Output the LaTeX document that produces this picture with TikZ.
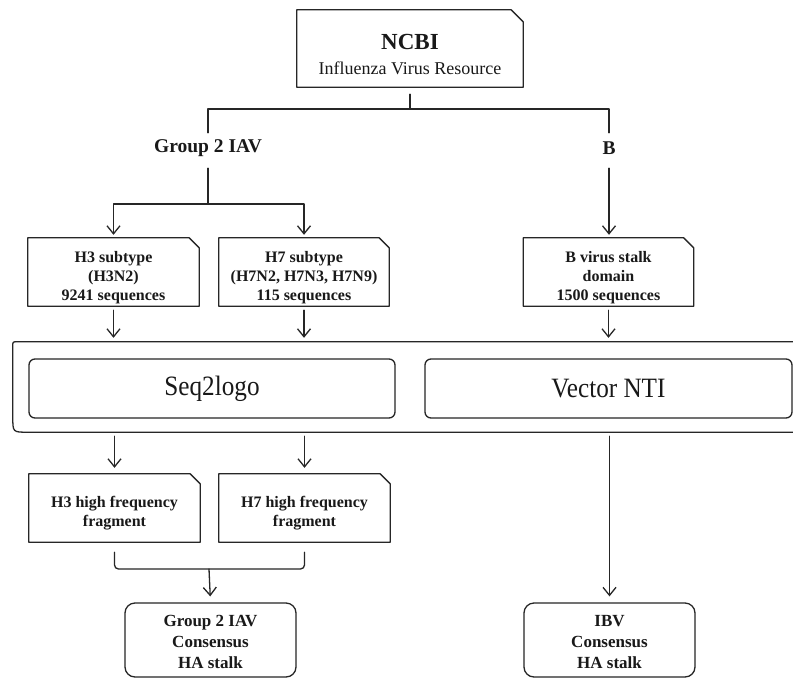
\documentclass[tikz,border=0pt]{standalone}
\usepackage{fontspec}
\setmainfont{Liberation Serif}
\usetikzlibrary{arrows.meta}
\newcommand\tstrut[1]{\rule{0pt}{#1}}
\tikzset{
  ln/.style={line width=1.3pt, draw=black!85, line cap=round, line join=round},
  arr/.style={ln, -{Straight Barb[length=8pt,width=13pt,line width=1.3pt]}},
  boxarea/.style={draw=none, inner sep=0pt, align=center, text=black!90},
  notebox/.style={boxarea, font=\fontsize{16}{19}\selectfont\bfseries},
  resbox/.style={boxarea, draw, ln, rounded corners=10pt, font=\fontsize{17}{21}\selectfont\bfseries},
  toolbox/.style={boxarea, draw, ln, rounded corners=6pt, font=\fontsize{28}{30}\selectfont},
  lbl/.style={inner sep=0pt, minimum height=30pt, font=\fontsize{19.5}{22}\selectfont\bfseries, text=black!90}
}
\begin{document}
\begin{tikzpicture}[x=1pt,y=-1pt]
\useasboundingbox[fill=white] (0,0) rectangle (793,678);
% nodes
\node[boxarea, minimum width=226pt, minimum height=77pt, font=\fontsize{18}{25}\selectfont] (ncbi) at (410,48.5)
  {\tstrut{28pt}{\fontsize{23}{25}\selectfont\bfseries NCBI}\\Influenza Virus Resource};
\node[lbl] (g2) at (208,148) {Group 2 IAV};
\node[lbl] (b) at (609,148) {B};
\node[notebox, minimum width=171pt, minimum height=68pt] (h3) at (113.5,272) {\tstrut{22pt}H3 subtype\\(H3N2)\\9241 sequences};
\node[notebox, minimum width=170pt, minimum height=68pt] (h7) at (304,272) {\tstrut{22pt}H7 subtype\\(H7N2, H7N3, H7N9)\\115 sequences};
\node[notebox, minimum width=170pt, minimum height=68pt] (bv) at (608.5,272) {\tstrut{22pt}B virus stalk\\domain\\1500 sequences};
\node[boxarea, minimum width=787pt, minimum height=90pt] (outer) at (406.5,387) {};
\node[toolbox, minimum width=366pt, minimum height=59pt] (seq) at (212,388.5) {\scalebox{0.9}[1]{Seq2logo}};
\node[toolbox, minimum width=367pt, minimum height=59pt] (vnti) at (608.5,388.5) {\scalebox{0.9}[1]{Vector NTI}};
\node[notebox, minimum width=171pt, minimum height=68pt] (h3f) at (114.5,508) {\tstrut{22pt}H3 high frequency\\fragment};
\node[notebox, minimum width=171pt, minimum height=68pt] (h7f) at (304.5,508) {\tstrut{22pt}H7 high frequency\\fragment};
\node[resbox, minimum width=171pt, minimum height=74pt] (g2c) at (210.5,640) {\tstrut{15.5pt}Group 2 IAV\\Consensus\\HA stalk};
\node[resbox, minimum width=171pt, minimum height=74pt] (ibv) at (609.5,640) {\tstrut{15.5pt}IBV\\Consensus\\HA stalk};
% chamfered outlines
\draw[ln] (ncbi.south west) -- (ncbi.north west) -- ([xshift=-12pt]ncbi.north east) -- ([yshift=-12pt]ncbi.north east) -- (ncbi.south east) -- cycle;
\foreach \n in {h3,h7,bv,h3f,h7f}{
  \draw[ln] (\n.south west) -- (\n.north west) -- ([xshift=-10pt]\n.north east) -- ([yshift=-10pt]\n.north east) -- (\n.south east) -- cycle;
}
% outer frame
\draw[ln] (outer.north east) -- ([xshift=4pt]outer.north west) .. controls (outer.north west) .. ([yshift=-4pt]outer.north west)
  -- ([yshift=15pt]outer.south west) .. controls (outer.south west) .. ([xshift=15pt]outer.south west) -- (outer.south east);
% connectors
\coordinate (j0) at (410,109);
\coordinate (j1) at (208,204);
\coordinate (j2) at (209,569);
\draw[ln, shorten <=7pt] (ncbi.south) -- (j0);
\draw[ln] (g2.north) -- (g2.north |- j0) -- (b.north |- j0) -- (b.north);
\draw[ln, shorten <=5pt] (g2.south) -- (j1);
\draw[arr, shorten >=3pt] (j1) -| (h3.north);
\draw[arr, shorten >=3pt] (j1) -| (h7.north);
\draw[arr, shorten <=5pt, shorten >=3pt] (b.south) -- (b.south |- bv.north);
\draw[arr, shorten <=4pt, shorten >=4pt] (h3.south) -- (h3.south |- outer.north);
\draw[arr, shorten <=4pt, shorten >=4pt] (h7.south) -- (h7.south |- outer.north);
\draw[arr, shorten <=4pt, shorten >=4pt] (bv.south) -- (bv.south |- outer.north);
\draw[arr, shorten <=4pt, shorten >=6pt] (h3f.north |- outer.south) -- (h3f.north);
\draw[arr, shorten <=4pt, shorten >=6pt] (h7f.north |- outer.south) -- (h7f.north);
\draw[ln, rounded corners=4pt] ([yshift=-10pt]h3f.south) |- (j2) -| ([yshift=-10pt]h7f.south);
\draw[arr, shorten >=6pt] (j2) -- (g2c.north);
\draw[arr, shorten <=4pt, shorten >=6pt] (ibv.north |- outer.south) -- (ibv.north);
\end{tikzpicture}
\end{document}
